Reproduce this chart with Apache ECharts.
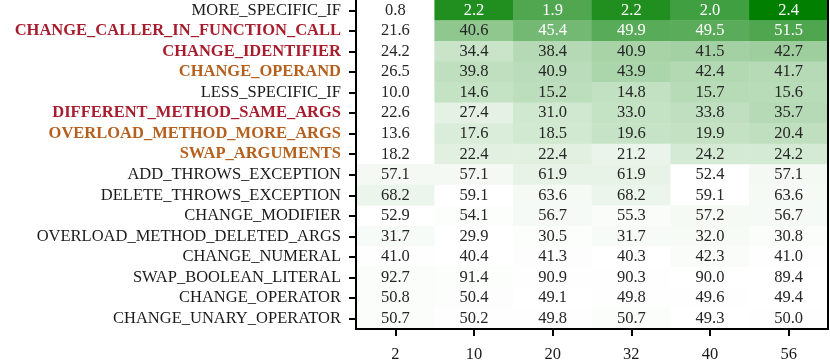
<!DOCTYPE html>
<html><head><meta charset="utf-8">
<script src="https://cdn.jsdelivr.net/npm/echarts@6/dist/echarts.min.js"></script>
<style>html,body{margin:0;padding:0;background:#fff}#c{width:830px;height:363px}</style>
</head><body><div id="c"></div>
<script>
const columns = ['2', '10', '20', '32', '40', '56'];
const rows = ['MORE_SPECIFIC_IF','CHANGE_CALLER_IN_FUNCTION_CALL','CHANGE_IDENTIFIER','CHANGE_OPERAND','LESS_SPECIFIC_IF','DIFFERENT_METHOD_SAME_ARGS','OVERLOAD_METHOD_MORE_ARGS','SWAP_ARGUMENTS','ADD_THROWS_EXCEPTION','DELETE_THROWS_EXCEPTION','CHANGE_MODIFIER','OVERLOAD_METHOD_DELETED_ARGS','CHANGE_NUMERAL','SWAP_BOOLEAN_LITERAL','CHANGE_OPERATOR','CHANGE_UNARY_OPERATOR'];
const rowStyle = ['n','r','r','o','n','r','o','o','n','n','n','n','n','n','n','n'];
const values = [
  [0.8, 2.2, 1.9, 2.2, 2.0, 2.4],
  [21.6, 40.6, 45.4, 49.9, 49.5, 51.5],
  [24.2, 34.4, 38.4, 40.9, 41.5, 42.7],
  [26.5, 39.8, 40.9, 43.9, 42.4, 41.7],
  [10.0, 14.6, 15.2, 14.8, 15.7, 15.6],
  [22.6, 27.4, 31.0, 33.0, 33.8, 35.7],
  [13.6, 17.6, 18.5, 19.6, 19.9, 20.4],
  [18.2, 22.4, 22.4, 21.2, 24.2, 24.2],
  [57.1, 57.1, 61.9, 61.9, 52.4, 57.1],
  [68.2, 59.1, 63.6, 68.2, 59.1, 63.6],
  [52.9, 54.1, 56.7, 55.3, 57.2, 56.7],
  [31.7, 29.9, 30.5, 31.7, 32.0, 30.8],
  [41.0, 40.4, 41.3, 40.3, 42.3, 41.0],
  [92.7, 91.4, 90.9, 90.3, 90.0, 89.4],
  [50.8, 50.4, 49.1, 49.8, 49.6, 49.4],
  [50.7, 50.2, 49.8, 50.7, 49.3, 50.0]
];

const data = [];
values.forEach((row, yi) => {
  const mn = Math.min(...row);
  row.forEach((v, xi) => {
    data.push([xi, yi, v, v / mn - 1]);
  });
});

const FONT = '"Liberation Serif", "DejaVu Serif", serif';
const FS = 16.5;
const chart = echarts.init(document.getElementById('c'), null, {renderer: 'canvas'});
chart.setOption({
  animation: false,
  backgroundColor: '#fff',
  grid: {left: 356, right: 2, top: 0, bottom: 34, show: false},
  xAxis: {
    type: 'category', data: columns, position: 'bottom', z: 10,
    axisLine: {show: true, lineStyle: {color: '#000', width: 2}},
    axisTick: {show: true, alignWithLabel: true, interval: 0, length: 7, lineStyle: {color: '#000', width: 2}},
    axisLabel: {color: '#1a1a1a', fontFamily: FONT, fontSize: FS, margin: 17, interval: 0},
    splitLine: {show: false}, splitArea: {show: false}
  },
  yAxis: [{
    type: 'category', data: rows, inverse: true, z: 10,
    axisLine: {show: true, lineStyle: {color: '#000', width: 2}},
    axisTick: {show: true, alignWithLabel: true, interval: 0, length: 7, lineStyle: {color: '#000', width: 2}},
    axisLabel: {
      fontFamily: FONT, fontSize: FS, margin: 15, interval: 0,
      formatter: (val, idx) => '{' + rowStyle[idx] + '|' + val + '}',
      rich: {
        n: {color: '#1a1a1a', fontFamily: FONT, fontSize: FS},
        r: {color: '#a81d2e', fontFamily: FONT, fontSize: FS, fontWeight: 'bold'},
        o: {color: '#b5601e', fontFamily: FONT, fontSize: FS, fontWeight: 'bold'}
      }
    },
    splitLine: {show: false}, splitArea: {show: false}
  }, {
    type: 'category', data: rows, inverse: true, position: 'right', z: 10,
    axisLine: {show: true, lineStyle: {color: '#000', width: 2}},
    axisTick: {show: false}, axisLabel: {show: false},
    splitLine: {show: false}, splitArea: {show: false}
  }],
  visualMap: {
    show: false, dimension: 3, min: 0, max: 2, seriesIndex: 0,
    inRange: {color: ['#ffffff', '#007f00']}
  },
  series: [{
    type: 'heatmap',
    xAxisIndex: 0, yAxisIndex: 0,
    data: data,
    label: {
      show: true,
      formatter: p => (p.data[3] / 2 > 0.5 ? '{w|' : '{d|') + p.data[2].toFixed(1) + '}',
      rich: {
        w: {color: '#ffffff', fontFamily: FONT, fontSize: FS},
        d: {color: '#262626', fontFamily: FONT, fontSize: FS}
      }
    },
    itemStyle: {borderWidth: 0},
    emphasis: {disabled: true}
  }]
});
</script></body></html>
